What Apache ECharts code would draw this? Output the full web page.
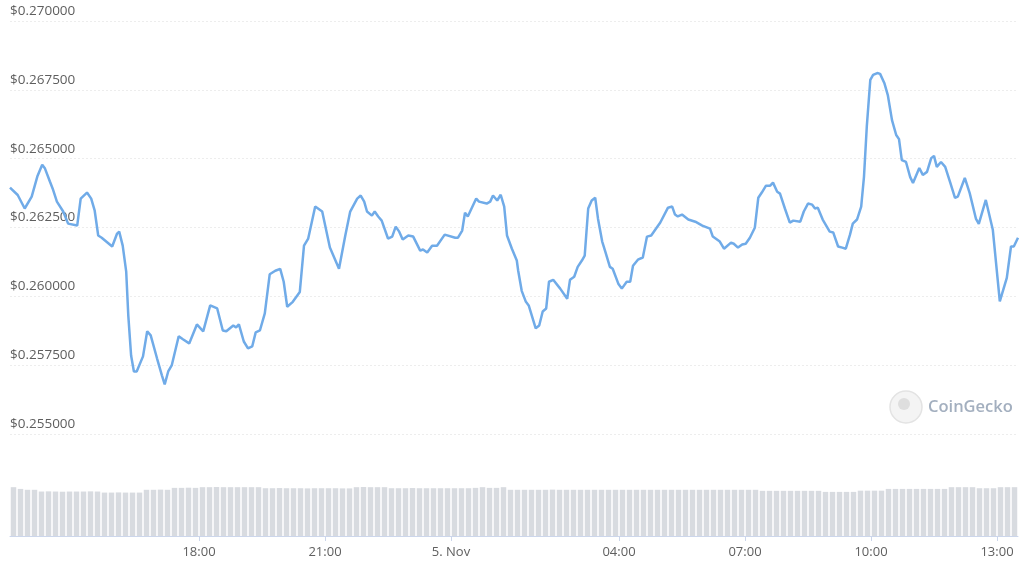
<!DOCTYPE html>
<html>
<head>
<meta charset="utf-8">
<script src="https://cdn.jsdelivr.net/npm/echarts@6/dist/echarts.min.js"></script>
<style>
html,body{margin:0;padding:0;background:#fff;}
#chart{width:1024px;height:576px;}
</style>
</head>
<body>
<div id="chart"></div>
<script>
// Price series: time (MM-DD HH:MM) and USD price
var priceTimes = [
'11-04 13:30','11-04 13:41','11-04 13:51','11-04 14:01','11-04 14:09','11-04 14:16','11-04 14:20','11-04 14:27','11-04 14:31','11-04 14:37',
'11-04 14:46','11-04 14:53','11-04 15:06','11-04 15:11','11-04 15:20','11-04 15:26','11-04 15:31','11-04 15:36','11-04 15:41','11-04 15:56',
'11-04 16:03','11-04 16:06','11-04 16:11','11-04 16:16','11-04 16:19','11-04 16:23','11-04 16:27','11-04 16:31','11-04 16:40','11-04 16:46',
'11-04 16:51','11-04 17:00','11-04 17:07','11-04 17:11','11-04 17:16','11-04 17:21','11-04 17:31','11-04 17:37','11-04 17:46','11-04 17:57',
'11-04 18:06','11-04 18:16','11-04 18:26','11-04 18:34','11-04 18:39','11-04 18:49','11-04 18:53','11-04 18:57','11-04 19:04','11-04 19:10',
'11-04 19:16','11-04 19:21','11-04 19:27','11-04 19:34','11-04 19:41','11-04 19:49','11-04 19:56','11-04 20:01','11-04 20:06','11-04 20:14',
'11-04 20:24','11-04 20:30','11-04 20:36','11-04 20:46','11-04 20:56','11-04 21:07','11-04 21:20','11-04 21:29','11-04 21:36','11-04 21:46',
'11-04 21:51','11-04 21:56','11-04 22:00','11-04 22:07','11-04 22:11','11-04 22:16','11-04 22:21','11-04 22:30','11-04 22:36','11-04 22:41',
'11-04 22:46','11-04 22:51','11-04 22:59','11-04 23:06','11-04 23:16','11-04 23:20','11-04 23:26','11-04 23:33','11-04 23:40','11-04 23:51',
'11-05 00:06','11-05 00:10','11-05 00:16','11-05 00:20','11-05 00:24','11-05 00:36','11-05 00:40','11-05 00:51','11-05 00:56','11-05 01:00',
'11-05 01:06','11-05 01:11','11-05 01:16','11-05 01:20','11-05 01:27','11-05 01:34','11-05 01:36','11-05 01:41','11-05 01:47','11-05 01:51',
'11-05 02:01','11-05 02:06','11-05 02:11','11-05 02:16','11-05 02:20','11-05 02:26','11-05 02:36','11-05 02:46','11-05 02:50','11-05 02:56',
'11-05 03:01','11-05 03:07','11-05 03:11','11-05 03:16','11-05 03:21','11-05 03:26','11-05 03:30','11-05 03:36','11-05 03:40','11-05 03:47',
'11-05 03:51','11-05 03:59','11-05 04:04','11-05 04:11','11-05 04:16','11-05 04:20','11-05 04:27','11-05 04:34','11-05 04:40','11-05 04:46',
'11-05 04:51','11-05 04:59','11-05 05:10','11-05 05:16','11-05 05:20','11-05 05:24','11-05 05:30','11-05 05:39','11-05 05:49','11-05 05:59',
'11-05 06:10','11-05 06:14','11-05 06:24','11-05 06:30','11-05 06:40','11-05 06:44','11-05 06:50','11-05 06:56','11-05 07:01','11-05 07:07',
'11-05 07:14','11-05 07:19','11-05 07:24','11-05 07:30','11-05 07:36','11-05 07:40','11-05 07:46','11-05 07:50','11-05 07:57','11-05 08:04',
'11-05 08:09','11-05 08:19','11-05 08:24','11-05 08:30','11-05 08:36','11-05 08:40','11-05 08:44','11-05 08:51','11-05 09:01','11-05 09:06',
'11-05 09:13','11-05 09:19','11-05 09:24','11-05 09:30','11-05 09:34','11-05 09:40','11-05 09:46','11-05 09:50','11-05 09:54','11-05 09:59',
'11-05 10:03','11-05 10:09','11-05 10:13','11-05 10:19','11-05 10:24','11-05 10:30','11-05 10:36','11-05 10:40','11-05 10:44','11-05 10:50',
'11-05 10:56','11-05 11:00','11-05 11:09','11-05 11:14','11-05 11:20','11-05 11:26','11-05 11:30','11-05 11:34','11-05 11:40','11-05 11:46',
'11-05 11:53','11-05 12:00','11-05 12:04','11-05 12:14','11-05 12:21','11-05 12:30','11-05 12:34','11-05 12:44','11-05 12:54','11-05 13:04',
'11-05 13:14','11-05 13:20','11-05 13:24','11-05 13:30'
];
var priceValues = [
0.26395,0.26368,0.26319,0.26362,0.26435,0.26478,0.26464,0.26417,0.26391,0.26344,
0.26308,0.26264,0.26257,0.26355,0.26377,0.26355,0.26311,0.26221,0.26213,0.26181,
0.26228,0.26235,0.26184,0.26090,0.25930,0.25785,0.25727,0.25727,0.25782,0.25873,
0.25858,0.25775,0.25713,0.25680,0.25727,0.25749,0.25855,0.25844,0.25829,0.25898,
0.25873,0.25967,0.25956,0.25876,0.25873,0.25894,0.25887,0.25898,0.25836,0.25811,
0.25818,0.25869,0.25876,0.25938,0.26080,0.26093,0.26100,0.26053,0.25962,0.25980,
0.26016,0.26184,0.26210,0.26326,0.26308,0.26177,0.26100,0.26221,0.26308,0.26355,
0.26366,0.26344,0.26308,0.26293,0.26308,0.26290,0.26275,0.26210,0.26217,0.26253,
0.26235,0.26206,0.26221,0.26217,0.26166,0.26170,0.26159,0.26184,0.26184,0.26224,
0.26213,0.26213,0.26239,0.26304,0.26290,0.26355,0.26344,0.26337,0.26344,0.26366,
0.26348,0.26369,0.26326,0.26221,0.26173,0.26130,0.26093,0.26020,0.25980,0.25967,
0.25884,0.25894,0.25945,0.25956,0.26053,0.26060,0.26028,0.25991,0.26060,0.26071,
0.26107,0.26130,0.26148,0.26319,0.26348,0.26358,0.26282,0.26199,0.26166,0.26107,
0.26100,0.26046,0.26028,0.26053,0.26053,0.26111,0.26133,0.26141,0.26217,0.26221,
0.26239,0.26268,0.26322,0.26326,0.26297,0.26290,0.26297,0.26279,0.26271,0.26257,
0.26246,0.26217,0.26199,0.26173,0.26195,0.26191,0.26177,0.26188,0.26191,0.26213,
0.26249,0.26358,0.26377,0.26402,0.26402,0.26413,0.26380,0.26373,0.26319,0.26268,
0.26275,0.26271,0.26308,0.26337,0.26333,0.26319,0.26322,0.26279,0.26235,0.26232,
0.26181,0.26177,0.26173,0.26224,0.26264,0.26279,0.26326,0.26435,0.26617,0.26786,
0.26804,0.26811,0.26808,0.26775,0.26731,0.26640,0.26586,0.26571,0.26495,0.26488,
0.26433,0.26412,0.26466,0.26441,0.26452,0.26502,0.26510,0.26470,0.26488,0.26470,
0.26415,0.26358,0.26362,0.26430,0.26375,0.26281,0.26263,0.26350,0.26242,0.25982,
0.26067,0.26181,0.26181,0.26213
];
// Volume: one bar per 10 minutes from 11-04 13:30, in millions USD
var volumeStart = '11-04 13:30';
var volumeStepMinutes = 10;
var volumeValues = [
280,270,265,265,255,256,255,254,255,255,255,256,255,249,249,250,249,249,249,265,
265,266,265,276,276,277,276,280,280,281,280,280,280,280,280,280,274,274,275,274,
274,274,273,274,274,274,274,273,273,280,281,280,280,280,274,274,274,275,274,274,
274,274,274,274,274,274,276,280,276,276,280,265,265,265,265,265,265,266,265,265,
265,265,265,265,265,265,265,265,265,265,265,265,265,265,265,265,265,265,265,265,
265,265,265,265,265,265,265,259,259,259,259,259,259,259,259,259,253,253,253,253,
253,260,260,260,260,270,270,270,270,270,270,270,270,270,280,280,280,280,274,274,
274,280,280,280
];
// Axis ticks and labels
var yTickValues = [0.255, 0.2575, 0.26, 0.2625, 0.265, 0.2675, 0.27];
var xTickTimes = ['11-04 18:00','11-04 21:00','11-05 00:00','11-05 04:00','11-05 07:00','11-05 10:00','11-05 13:00'];
var xTickLabels = ['18:00','21:00','5. Nov','04:00','07:00','10:00','13:00'];
var axisStart = '11-04 13:30';
var axisEnd = '11-05 13:30';

function toMs(s) {
  var mo = parseInt(s.slice(0,2),10) - 1;
  var d = parseInt(s.slice(3,5),10);
  var h = parseInt(s.slice(6,8),10);
  var mi = parseInt(s.slice(9,11),10);
  return Date.UTC(2021, mo, d, h, mi);
}
var xMin = toMs(axisStart), xMax = toMs(axisEnd);
var priceData = priceTimes.map(function (t, i) { return [toMs(t), priceValues[i]]; });
var vStart = toMs(volumeStart);
var volData = volumeValues.map(function (v, i) { return [vStart + (i + 0.5) * volumeStepMinutes * 60000, v]; });
var tickMs = xTickTimes.map(toMs);
var labelMap = {};
tickMs.forEach(function (t, i) { labelMap[t] = xTickLabels[i]; });

var FONT = '"Open Sans", sans-serif';
var chart = echarts.init(document.getElementById('chart'), null, { renderer: 'canvas' });
chart.setOption({
  animation: false,
  backgroundColor: '#ffffff',
  grid: [
    { left: 10, right: 6, top: 21, height: 413 },
    { left: 10, right: 6, top: 487, height: 49 }
  ],
  xAxis: [
    { type: 'value', gridIndex: 0, min: xMin, max: xMax, show: false },
    {
      type: 'value', gridIndex: 1, min: xMin, max: xMax,
      splitLine: { show: false },
      axisLine: { show: true, lineStyle: { color: '#ccd6eb', width: 1 } },
      axisTick: { show: true, length: 5, lineStyle: { color: '#ccd6eb' }, customValues: tickMs },
      axisLabel: {
        customValues: tickMs, color: '#606060', fontSize: 13, fontFamily: FONT, margin: 10,
        formatter: function (v) { return labelMap[v] || ''; }
      }
    }
  ],
  yAxis: [
    {
      type: 'value', gridIndex: 0, min: 0.255, max: 0.27, interval: 0.0025,
      axisLine: { show: false }, axisTick: { show: false },
      splitLine: { show: true, lineStyle: { color: '#ededed', type: [2, 2], width: 1 } },
      axisLabel: {
        inside: true, margin: 0, verticalAlign: 'bottom', padding: [0, 0, 3, 0],
        color: '#5e5e5e', fontSize: 13.5, fontFamily: FONT,
        customValues: yTickValues,
        formatter: function (v) { return '$' + v.toFixed(6); }
      }
    },
    {
      type: 'value', gridIndex: 1, min: 0, max: 281, show: false
    }
  ],
  graphic: [
    { type: 'circle', shape: { cx: 906, cy: 407, r: 16 }, style: { fill: '#f4f4f4', stroke: '#e3e3e3', lineWidth: 1.5 } },
    { type: 'circle', shape: { cx: 904, cy: 404, r: 6 }, style: { fill: '#dedede' } },
    { type: 'text', style: { x: 928, y: 407, text: 'CoinGecko', fill: '#a3afbf', font: '600 16.5px ' + FONT, verticalAlign: 'middle' } }
  ],
  series: [
    {
      type: 'line', xAxisIndex: 0, yAxisIndex: 0, data: priceData,
      showSymbol: false, symbol: 'none', smooth: false,
      lineStyle: { color: '#70abe8', width: 2.5 }
    },
    {
      type: 'bar', xAxisIndex: 1, yAxisIndex: 1, data: volData,
      barWidth: 5.5, itemStyle: { color: '#d8dbe0' }
    }
  ]
});
</script>
</body>
</html>
